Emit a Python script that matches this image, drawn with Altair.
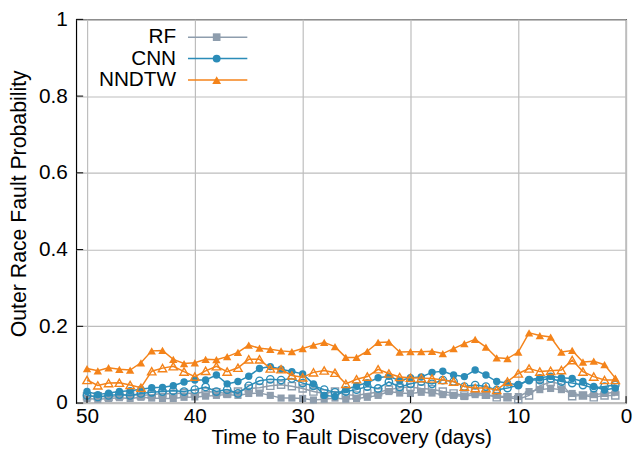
import altair as alt
import pandas as pd

# ---------------- data ----------------
days = list(range(50, 0, -1))  # 50 ... 1 days before fault discovery

rf_filled = [0.012, 0.010, 0.012, 0.014, 0.012, 0.015, 0.013, 0.012, 0.012, 0.015,
             0.016, 0.018, 0.020, 0.022, 0.020, 0.025, 0.026, 0.020, 0.013, 0.013,
             0.012, 0.008, 0.010, 0.013, 0.010, 0.012, 0.015, 0.020, 0.030, 0.026,
             0.025, 0.028, 0.026, 0.022, 0.020, 0.017, 0.022, 0.020, 0.020, 0.015,
             0.017, 0.030, 0.035, 0.038, 0.035, 0.025, 0.020, 0.022, 0.025, 0.028]
rf_hollow = [0.018, 0.018, 0.016, 0.020, 0.022, 0.020, 0.022, 0.025, 0.024, 0.026,
             0.024, 0.030, 0.028, 0.025, 0.030, 0.038, 0.040, 0.045, 0.048, 0.044,
             0.038, 0.030, 0.025, 0.030, 0.022, 0.020, 0.025, 0.028, 0.035, 0.040,
             0.042, 0.038, 0.036, 0.030, 0.025, 0.020, 0.028, 0.022, 0.015, 0.015,
             0.010, 0.020, 0.045, 0.055, 0.050, 0.018, 0.020, 0.015, 0.020, 0.020]
cnn_filled = [0.030, 0.022, 0.026, 0.030, 0.032, 0.036, 0.040, 0.041, 0.045, 0.055,
              0.060, 0.060, 0.073, 0.050, 0.056, 0.070, 0.090, 0.095, 0.088, 0.082,
              0.076, 0.050, 0.020, 0.017, 0.035, 0.045, 0.053, 0.066, 0.070, 0.058,
              0.066, 0.068, 0.080, 0.083, 0.073, 0.069, 0.086, 0.073, 0.056, 0.052,
              0.047, 0.060, 0.066, 0.070, 0.066, 0.064, 0.056, 0.043, 0.034, 0.039]
cnn_hollow = [0.020, 0.016, 0.020, 0.022, 0.020, 0.025, 0.028, 0.030, 0.032, 0.030,
              0.035, 0.042, 0.030, 0.035, 0.025, 0.045, 0.058, 0.062, 0.060, 0.064,
              0.052, 0.045, 0.035, 0.028, 0.030, 0.035, 0.043, 0.038, 0.055, 0.042,
              0.050, 0.056, 0.050, 0.060, 0.056, 0.043, 0.047, 0.043, 0.034, 0.039,
              0.047, 0.060, 0.060, 0.064, 0.056, 0.052, 0.047, 0.039, 0.043, 0.047]
nndtw_filled = [0.090, 0.084, 0.092, 0.088, 0.086, 0.105, 0.136, 0.137, 0.114, 0.103,
                0.105, 0.114, 0.113, 0.121, 0.132, 0.151, 0.143, 0.140, 0.136, 0.134,
                0.142, 0.151, 0.158, 0.147, 0.119, 0.119, 0.135, 0.158, 0.159, 0.133,
                0.134, 0.134, 0.135, 0.129, 0.142, 0.155, 0.166, 0.146, 0.118, 0.116,
                0.133, 0.183, 0.176, 0.172, 0.133, 0.137, 0.107, 0.109, 0.100, 0.065]
nndtw_hollow = [0.060, 0.046, 0.052, 0.053, 0.047, 0.040, 0.083, 0.091, 0.096, 0.082,
                0.069, 0.084, 0.096, 0.082, 0.092, 0.114, 0.114, 0.090, 0.088, 0.072,
                0.067, 0.080, 0.085, 0.079, 0.050, 0.062, 0.069, 0.088, 0.077, 0.068,
                0.066, 0.065, 0.064, 0.060, 0.056, 0.043, 0.039, 0.039, 0.034, 0.056,
                0.077, 0.090, 0.082, 0.084, 0.086, 0.112, 0.082, 0.069, 0.060, 0.060]

series_names = ["RF", "CNN", "NNDTW"]
x_ticks = [0, 10, 20, 30, 40, 50]
y_ticks = [0, 0.2, 0.4, 0.6, 0.8, 1]

# ---------------- styling ----------------
W, H = 556, 388
FONT = "Liberation Sans"
COLORS = {"RF": "#8e9dad", "CNN": "#2b8cb8", "NNDTW": "#f4831a"}
SHAPES = {"RF": "square", "CNN": "circle", "NNDTW": "triangle-up"}
SIZES = {"RF": 52, "CNN": 56, "NNDTW": 72}

x_scale = alt.Scale(domain=[51, 0], nice=False, zero=False)
y_scale = alt.Scale(domain=[0, 1], nice=False)

x_axis = alt.Axis(values=x_ticks, grid=True, gridColor="#bdbdbd", gridWidth=1.2,
                  ticks=False, tickSize=0, domain=False, labelFlush=False,
                  labelFont=FONT, labelFontSize=21, labelColor="black", labelPadding=3,
                  title="Time to Fault Discovery (days)", titleFont=FONT,
                  titleFontSize=21, titleFontWeight="normal", titleColor="black",
                  titleY=24, titleBaseline="top")
y_axis = alt.Axis(values=y_ticks, format="~g", grid=True, gridColor="#bdbdbd",
                  gridWidth=1.2, ticks=False, tickSize=0, domain=False,
                  labelFlush=False, labelFont=FONT, labelFontSize=21,
                  labelColor="black", labelPadding=9,
                  title="Outer Race Fault Probability", titleFont=FONT,
                  titleFontSize=21.5, titleFontWeight="normal", titleColor="black",
                  titleX=-51, titleY=186, titleAngle=270, titleAlign="center",
                  titleBaseline="alphabetic")

X = alt.X("day:Q", scale=x_scale, axis=x_axis)
Y = alt.Y("p:Q", scale=y_scale, axis=y_axis)


def series_layer(values, name, filled):
    df = pd.DataFrame({"day": days, "p": values})
    base = alt.Chart(df).encode(x=X, y=Y)
    line = base.mark_line(color=COLORS[name], strokeWidth=1.5)
    if filled:
        pts = base.mark_point(shape=SHAPES[name], filled=True, color=COLORS[name],
                              size=SIZES[name], opacity=1)
    else:
        pts = base.mark_point(shape=SHAPES[name], filled=False, color=COLORS[name],
                              size=SIZES[name], opacity=1, strokeWidth=1.4)
    return [line, pts]


layers = []
layers += series_layer(rf_hollow, "RF", False)
layers += series_layer(rf_filled, "RF", True)
layers += series_layer(cnn_hollow, "CNN", False)
layers += series_layer(cnn_filled, "CNN", True)
layers += series_layer(nndtw_hollow, "NNDTW", False)
layers += series_layer(nndtw_filled, "NNDTW", True)

# inward tick marks (gnuplot style)
xt = alt.Chart(pd.DataFrame({"day": x_ticks})).mark_rule(color="black", strokeWidth=1).encode(
    x=X, y=alt.value(H), y2=alt.value(H - 7))
yt = alt.Chart(pd.DataFrame({"p": y_ticks})).mark_rule(color="black", strokeWidth=1).encode(
    y=Y, x=alt.value(0), x2=alt.value(7))
layers += [xt, yt]

# legend (label left, line sample with marker on the right)
LEG_TEXT_X, LEG_LINE_X1, LEG_LINE_X2, LEG_MARK_X = 101, 113, 173, 142
LEG_Y0, LEG_DY = 18, 21.7
one = pd.DataFrame({"k": [0]})
for i, name in enumerate(series_names):
    yy = LEG_Y0 + i * LEG_DY
    layers.append(alt.Chart(one).mark_text(text=name, align="right", baseline="middle",
                                           font=FONT, fontSize=21, color="black").encode(
        x=alt.value(LEG_TEXT_X), y=alt.value(yy)))
    layers.append(alt.Chart(one).mark_rule(color=COLORS[name], strokeWidth=1.5).encode(
        x=alt.value(LEG_LINE_X1), x2=alt.value(LEG_LINE_X2), y=alt.value(yy)))
    layers.append(alt.Chart(one).mark_point(shape=SHAPES[name], filled=True, color=COLORS[name],
                                            size=SIZES[name] + 8, opacity=1).encode(
        x=alt.value(LEG_MARK_X), y=alt.value(yy)))

chart = alt.layer(*layers).properties(
    width=W, height=H,
    autosize=alt.AutoSizeParams(type="none"),
    padding={"left": 69, "top": 9, "right": 8, "bottom": 46},
    background="white",
).configure_view(stroke="black", strokeWidth=1.2)

chart.save("out.html", embed_options={"renderer": "svg", "actions": False})
